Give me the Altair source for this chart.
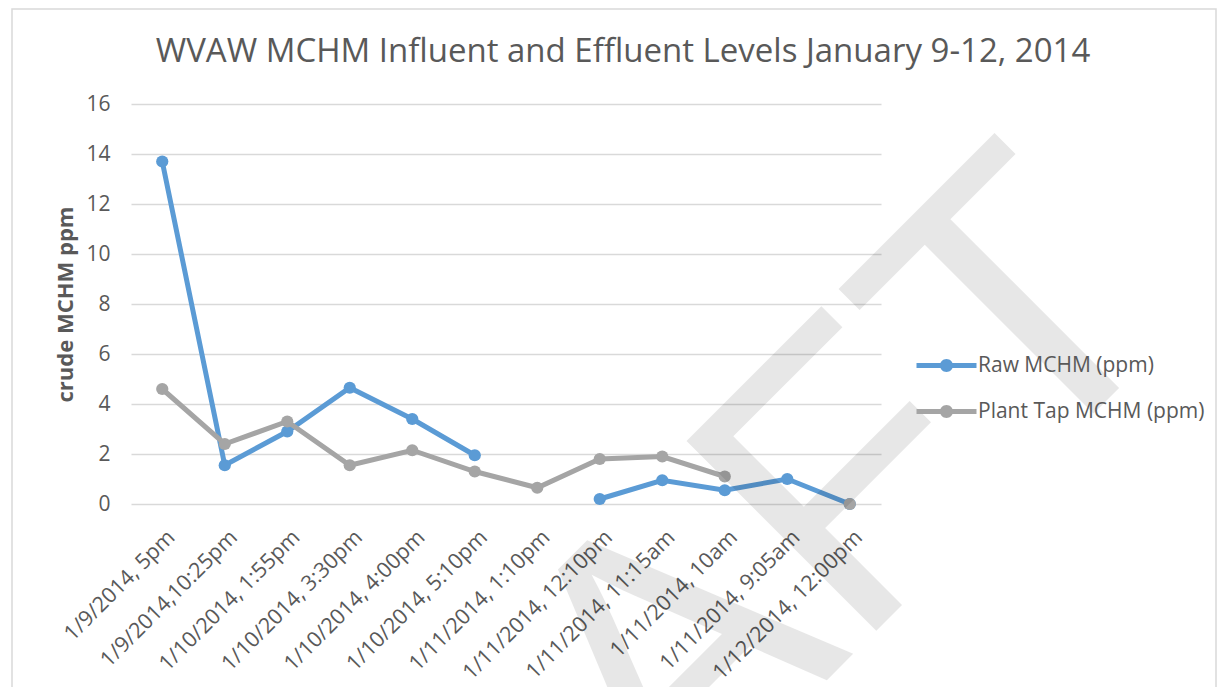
import altair as alt
import pandas as pd

# ---- data ----
labels = [
    "1/9/2014, 5pm", "1/9/2014,10:25pm", "1/10/2014, 1:55pm", "1/10/2014, 3:30pm",
    "1/10/2014, 4:00pm", "1/10/2014, 5:10pm", "1/11/2014, 1:10pm", "1/11/2014, 12:10pm",
    "1/11/2014, 11:15am", "1/11/2014, 10am", "1/11/2014, 9:05am", "1/12/2014, 12:00pm",
]
raw_mchm = [13.7, 1.55, 2.9, 4.65, 3.4, 1.95, None, 0.2, 0.95, 0.55, 1.0, 0.0]
plant_tap_mchm = [4.6, 2.4, 3.3, 1.55, 2.15, 1.3, 0.65, 1.8, 1.9, 1.1, None, 0.0]
series_names = ["Raw MCHM (ppm)", "Plant Tap MCHM (ppm)"]
series_colors = ["#5B9BD5", "#A5A5A5"]
y_ticks = [0, 2, 4, 6, 8, 10, 12, 14, 16]
chart_title = "WVAW MCHM Influent and Effluent Levels January 9-12, 2014"
y_title = "crude MCHM ppm"
watermark = ["DRAFT"]

rows = []
for name, vals in zip(series_names, [raw_mchm, plant_tap_mchm]):
    for lab, v in zip(labels, vals):
        rows.append({"time": lab, "series": name, "value": v})
df = pd.DataFrame(rows)

FONT = "Open Sans"
TXT = "#595959"

x_enc = alt.X(
    "time:N", sort=labels,
    scale=alt.Scale(type="point", padding=0.5),
    axis=alt.Axis(title=None, labelAngle=315, labelAlign="right", labelBaseline="middle",
                  labelPadding=30, labelOffset=9, labelFont=FONT, labelFontSize=21.5,
                  labelColor=TXT, labelLimit=400, labelOverlap=False,
                  ticks=False, domain=False, grid=False),
)
y_enc = alt.Y(
    "value:Q",
    scale=alt.Scale(domain=[0, 16], nice=False),
    axis=alt.Axis(values=y_ticks, title=y_title, titleFont=FONT, titleFontSize=22,
                  titleFontWeight="bold", titleColor=TXT, titleAngle=270,
                  titleX=-66, titleY=200, titleAlign="center", titleBaseline="middle",
                  labelFont=FONT, labelFontSize=21, labelColor=TXT, labelPadding=21,
                  ticks=False, domain=False, grid=True, gridColor="#D9D9D9", gridWidth=1.5),
)
color_scale = alt.Scale(domain=series_names, range=series_colors)
legend_symbol = ("M-3,-0.25 L3,-0.25 L3,0.25 L-3,0.25 Z "
                 "M-0.65,0 A0.65,0.65 0 1,1 0.65,0 A0.65,0.65 0 1,1 -0.65,0 Z")
legend = alt.Legend(title=None, orient="none", legendX=805, legendY=251,
                    symbolType=legend_symbol, symbolSize=400, symbolStrokeWidth=0,
                    symbolOpacity=1, labelFont=FONT, labelFontSize=21, labelColor=TXT,
                    labelOffset=21, rowPadding=24, padding=0, labelLimit=400)
stroke_enc = alt.Stroke("series:N", scale=color_scale, legend=legend)
fill_enc = alt.Fill("series:N", scale=color_scale, legend=legend)

base = alt.Chart(df)
layers = []
for name in series_names:
    sub = base.transform_filter(alt.datum.series == name)
    layers.append(sub.mark_line(strokeWidth=5, invalid="break-paths-show-domains")
                  .encode(x=x_enc, y=y_enc, stroke=stroke_enc))
    layers.append(sub.mark_point(filled=True, size=150, opacity=1)
                  .encode(x=x_enc, y=y_enc, fill=fill_enc))

frame = alt.Chart(pd.DataFrame({"a": [0]})).mark_rect(
    fillOpacity=0, stroke="#D9D9D9", strokeWidth=1.5
).encode(x=alt.value(-119), x2=alt.value(1085), y=alt.value(-95), y2=alt.value(620))

wm = alt.Chart(pd.DataFrame({"t": watermark})).mark_text(
    font="Liberation Sans", fontSize=390, angle=315, align="center",
    baseline="alphabetic", color="black", opacity=0.09
).encode(text="t:N", x=alt.value(600), y=alt.value(672))

chart = alt.layer(frame, *layers, wm).properties(
    width=750, height=400,
    padding={"left": 123, "top": 96, "right": 336, "bottom": 183},
    autosize=alt.AutoSizeParams(type="none"),
    title=alt.TitleParams(text=chart_title, font=FONT, fontSize=33, fontWeight="normal",
                          color=TXT, anchor="middle", frame="group", dx=117, dy=65),
).configure_view(stroke=None)

chart.save("out.html", embed_options={"renderer": "svg", "actions": False})
